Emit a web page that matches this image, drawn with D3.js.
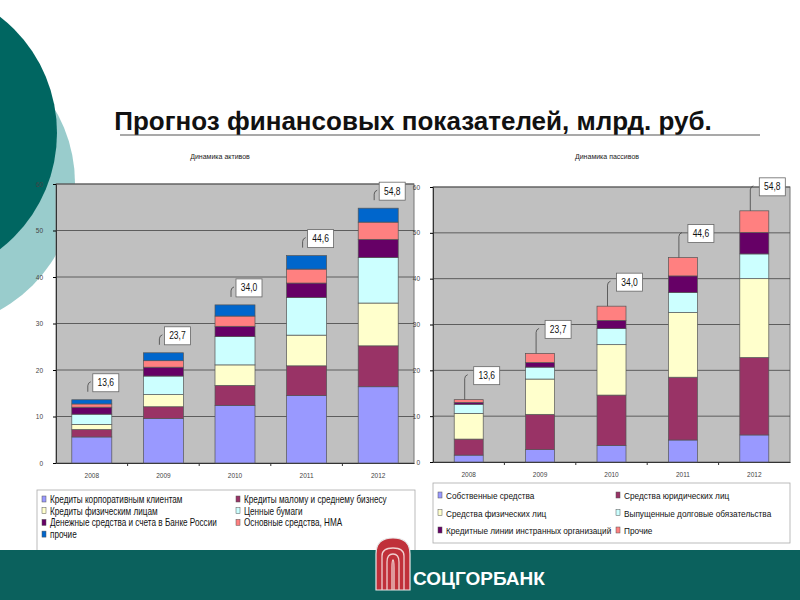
<!DOCTYPE html>
<html>
<head>
<meta charset="utf-8">
<script src="https://cdn.jsdelivr.net/npm/d3@7/dist/d3.min.js"></script>
<style>
  body { margin: 0; background: #fff; }
  svg { display: block; font-family: Arial, "Liberation Sans", sans-serif; }
</style>
</head>
<body>
<svg id="slide" width="800" height="600"></svg>
<script>
// years on both charts
const years = ["2008", "2009", "2010", "2011", "2012"];
const totals = ["13,6", "23,7", "34,0", "44,6", "54,8"];
const yTicks = [0, 10, 20, 30, 40, 50, 60];

// assets (bottom -> top)
const assetNames = [
  "Кредиты корпоративным клиентам",
  "Кредиты малому и среднему бизнесу",
  "Кредиты физическим лицам",
  "Ценные бумаги",
  "Денежные средства и счета в Банке России",
  "Основные средства, НМА",
  "прочие"
];
const assetColors = ["#9999ff", "#993366", "#ffffcc", "#ccffff", "#660066", "#ff8080", "#0066cc"];
const assetCorp   = [5.6, 9.6, 12.4, 14.5, 16.4];
const assetSme    = [1.6, 2.5, 4.3, 6.4, 8.8];
const assetRetail = [1.1, 2.6, 4.4, 6.6, 9.2];
const assetSec    = [2.2, 4.0, 6.1, 8.1, 9.8];
const assetCash   = [1.5, 1.9, 2.2, 3.1, 3.9];
const assetFixed  = [0.7, 1.4, 2.2, 3.0, 3.7];
const assetOther  = [0.9, 1.7, 2.4, 2.9, 3.0];

// liabilities (bottom -> top)
const liabNames = [
  "Собственные средства",
  "Средства юридических лиц",
  "Средства физических лиц",
  "Выпущенные долговые обязательства",
  "Кредитные линии инстранных организаций",
  "Прочие"
];
const liabColors = ["#9999ff", "#993366", "#ffffcc", "#ccffff", "#660066", "#ff8080"];
const liabOwn     = [1.5, 2.7, 3.6, 4.8, 5.9];
const liabCorp    = [3.5, 7.7, 11.0, 13.7, 16.9];
const liabRetail  = [5.6, 7.7, 11.0, 14.1, 17.2];
const liabDebt    = [2.0, 2.6, 3.5, 4.4, 5.4];
const liabForeign = [0.4, 1.0, 1.8, 3.6, 4.7];
const liabOther   = [0.6, 2.0, 3.1, 4.0, 4.7];

const svg = d3.select("#slide");

// background decoration
svg.append("circle").attr("cx", -70).attr("cy", 183).attr("r", 145).attr("fill", "#99cccc");
svg.append("circle").attr("cx", -90).attr("cy", 133).attr("r", 147).attr("fill", "#006661");

// slide title
svg.append("text").attr("x", 413).attr("y", 130).attr("text-anchor", "middle")
  .attr("font-size", 26).attr("font-weight", "bold").attr("fill", "#111")
  .text("Прогноз финансовых показателей, млрд. руб.");
svg.append("line").attr("x1", 120).attr("x2", 760).attr("y1", 135).attr("y2", 135)
  .attr("stroke", "#555").attr("stroke-width", 1.2);

function drawChart(opt) {
  const g = svg.append("g");
  const rows = years.map((y, i) => {
    const r = { year: y };
    opt.series.forEach((s, k) => r[k] = s[i]);
    return r;
  });
  const keys = opt.series.map((s, k) => k);
  const stacked = d3.stack().keys(keys)(rows);

  const x = d3.scaleBand().domain(years).range([opt.left, opt.right]);
  const y = d3.scaleLinear().domain([0, 60]).range([opt.bottom, opt.top]);

  g.append("text").attr("x", opt.titleX).attr("y", 159).attr("text-anchor", "middle")
    .attr("font-size", 7).attr("fill", "#222").text(opt.title);

  g.append("rect").attr("x", opt.left).attr("y", opt.top)
    .attr("width", opt.right - opt.left).attr("height", opt.bottom - opt.top)
    .attr("fill", "#c0c0c0").attr("stroke", "#777");

  g.append("g").selectAll("line").data(yTicks.slice(1)).join("line")
    .attr("x1", opt.left).attr("x2", opt.right)
    .attr("y1", d => y(d)).attr("y2", d => y(d))
    .attr("stroke", "#444").attr("stroke-width", 0.8);

  const yAxis = g.append("g").attr("transform", `translate(${opt.left},0)`)
    .call(d3.axisLeft(y).tickValues(yTicks).tickSize(3).tickPadding(10));
  yAxis.select(".domain").attr("stroke", "#333");
  yAxis.selectAll("text").attr("font-size", 6.5).attr("fill", "#444");

  const xAxis = g.append("g").attr("transform", `translate(0,${opt.bottom})`)
    .call(d3.axisBottom(x).tickSize(0).tickPadding(10));
  xAxis.select(".domain").attr("stroke", "#333");
  xAxis.selectAll("text").attr("font-size", 6.5).attr("fill", "#444");
  g.append("g").selectAll("line").data(years.slice(1)).join("line")
    .attr("x1", d => x(d)).attr("x2", d => x(d))
    .attr("y1", opt.bottom).attr("y2", opt.bottom + 3).attr("stroke", "#333");

  const bw = opt.barWidth;
  g.append("g").selectAll("g").data(stacked).join("g")
    .attr("fill", d => opt.colors[d.key])
    .selectAll("rect").data(d => d).join("rect")
    .attr("x", d => x(d.data.year) + x.bandwidth() / 2 - bw / 2)
    .attr("y", d => y(d[1]))
    .attr("width", bw)
    .attr("height", d => y(d[0]) - y(d[1]))
    .attr("stroke", "#555").attr("stroke-width", 0.7);

  // total callouts
  const last = stacked[stacked.length - 1];
  last.forEach((d, i) => {
    const cx = x(d.data.year) + x.bandwidth() / 2;
    const top = y(d[1]);
    const bx = cx + opt.boxDx, by = top - opt.boxDy;
    g.append("path")
      .attr("d", `M${cx + opt.leadDx},${top - opt.leadGap} L${cx + opt.leadDx},${by - 6} Q${cx + opt.leadDx},${by - 9} ${cx + opt.leadDx + 3},${by - 10}`)
      .attr("fill", "none").attr("stroke", "#444").attr("stroke-width", 0.8);
    g.append("rect").attr("x", bx).attr("y", by - 18).attr("width", 26).attr("height", 18)
      .attr("fill", "#fff").attr("stroke", "#666").attr("stroke-width", 0.8);
    g.append("text").attr("transform", `translate(${bx + 13},${by - 5.5}) scale(0.85,1)`)
      .attr("text-anchor", "middle")
      .attr("font-size", 10).attr("fill", "#111")
      .text(totals[i]);
  });

  // legend
  const lg = g.append("g");
  lg.append("rect").attr("x", opt.legend.x).attr("y", opt.legend.y)
    .attr("width", opt.legend.w).attr("height", opt.legend.h)
    .attr("fill", "#fff").attr("stroke", "#aaa").attr("stroke-width", 0.8);
  const items = lg.selectAll("g").data(opt.names).join("g")
    .attr("transform", (d, i) => `translate(${opt.legend.x + 5 + (i % 2) * opt.legend.colW},${opt.legend.y + opt.legend.y0 + Math.floor(i / 2) * opt.legend.rowH})`);
  items.append("rect").attr("x", 0).attr("y", -7).attr("width", 4).attr("height", 6)
    .attr("fill", (d, i) => opt.colors[i]).attr("stroke", "#555").attr("stroke-width", 0.5);
  items.append("text").attr("transform", `translate(8,0) scale(${opt.legend.sx},1)`)
    .attr("font-size", opt.legend.fs).attr("fill", "#111")
    .text(d => d);
}

drawChart({
  title: "Динамика активов", titleX: 220,
  left: 56, right: 414, top: 184, bottom: 463,
  barWidth: 40,
  series: [assetCorp, assetSme, assetRetail, assetSec, assetCash, assetFixed, assetOther],
  colors: assetColors, names: assetNames,
  boxDx: 1, boxDy: 8, leadDx: -4, leadGap: 8,
  legend: { x: 37, y: 490, w: 378, h: 70, y0: 13, rowH: 11.7, colW: 194, fs: 10.5, sx: 0.78 }
});

drawChart({
  title: "Динамика пассивов", titleX: 607,
  left: 433, right: 790, top: 187, bottom: 462,
  barWidth: 29,
  series: [liabOwn, liabCorp, liabRetail, liabDebt, liabForeign, liabOther],
  colors: liabColors, names: liabNames,
  boxDx: 5, boxDy: 15, leadDx: -4, leadGap: 0,
  legend: { x: 433, y: 483, w: 357, h: 60, y0: 16, rowH: 17.5, colW: 178, fs: 8.5, sx: 0.97 }
});

// bottom bar + logo
svg.append("rect").attr("x", 0).attr("y", 550).attr("width", 800).attr("height", 50).attr("fill", "#0b615d");
const logo = svg.append("g").attr("transform", "translate(376,538)");
logo.append("path").attr("d", "M0,52 L0,16 Q0,0 17,0 Q34,0 34,16 L34,52 Z")
  .attr("fill", "#c0303a").attr("stroke", "#e8e8e8").attr("stroke-width", 1.2);
[[6, 10], [11, 16], [16, 22]].forEach(([inset, topY]) => {
  logo.append("path")
    .attr("d", `M${inset},52 L${inset},${topY + 8} Q${inset},${topY} 17,${topY} Q${34 - inset},${topY} ${34 - inset},${topY + 8} L${34 - inset},52`)
    .attr("fill", "none").attr("stroke", "#f0d0d0").attr("stroke-width", 1.3);
});
svg.append("text").attr("x", 413).attr("y", 585).attr("font-size", 19).attr("font-weight", "bold")
  .attr("fill", "#fff").text("СОЦГОРБАНК");
</script>
</body>
</html>
